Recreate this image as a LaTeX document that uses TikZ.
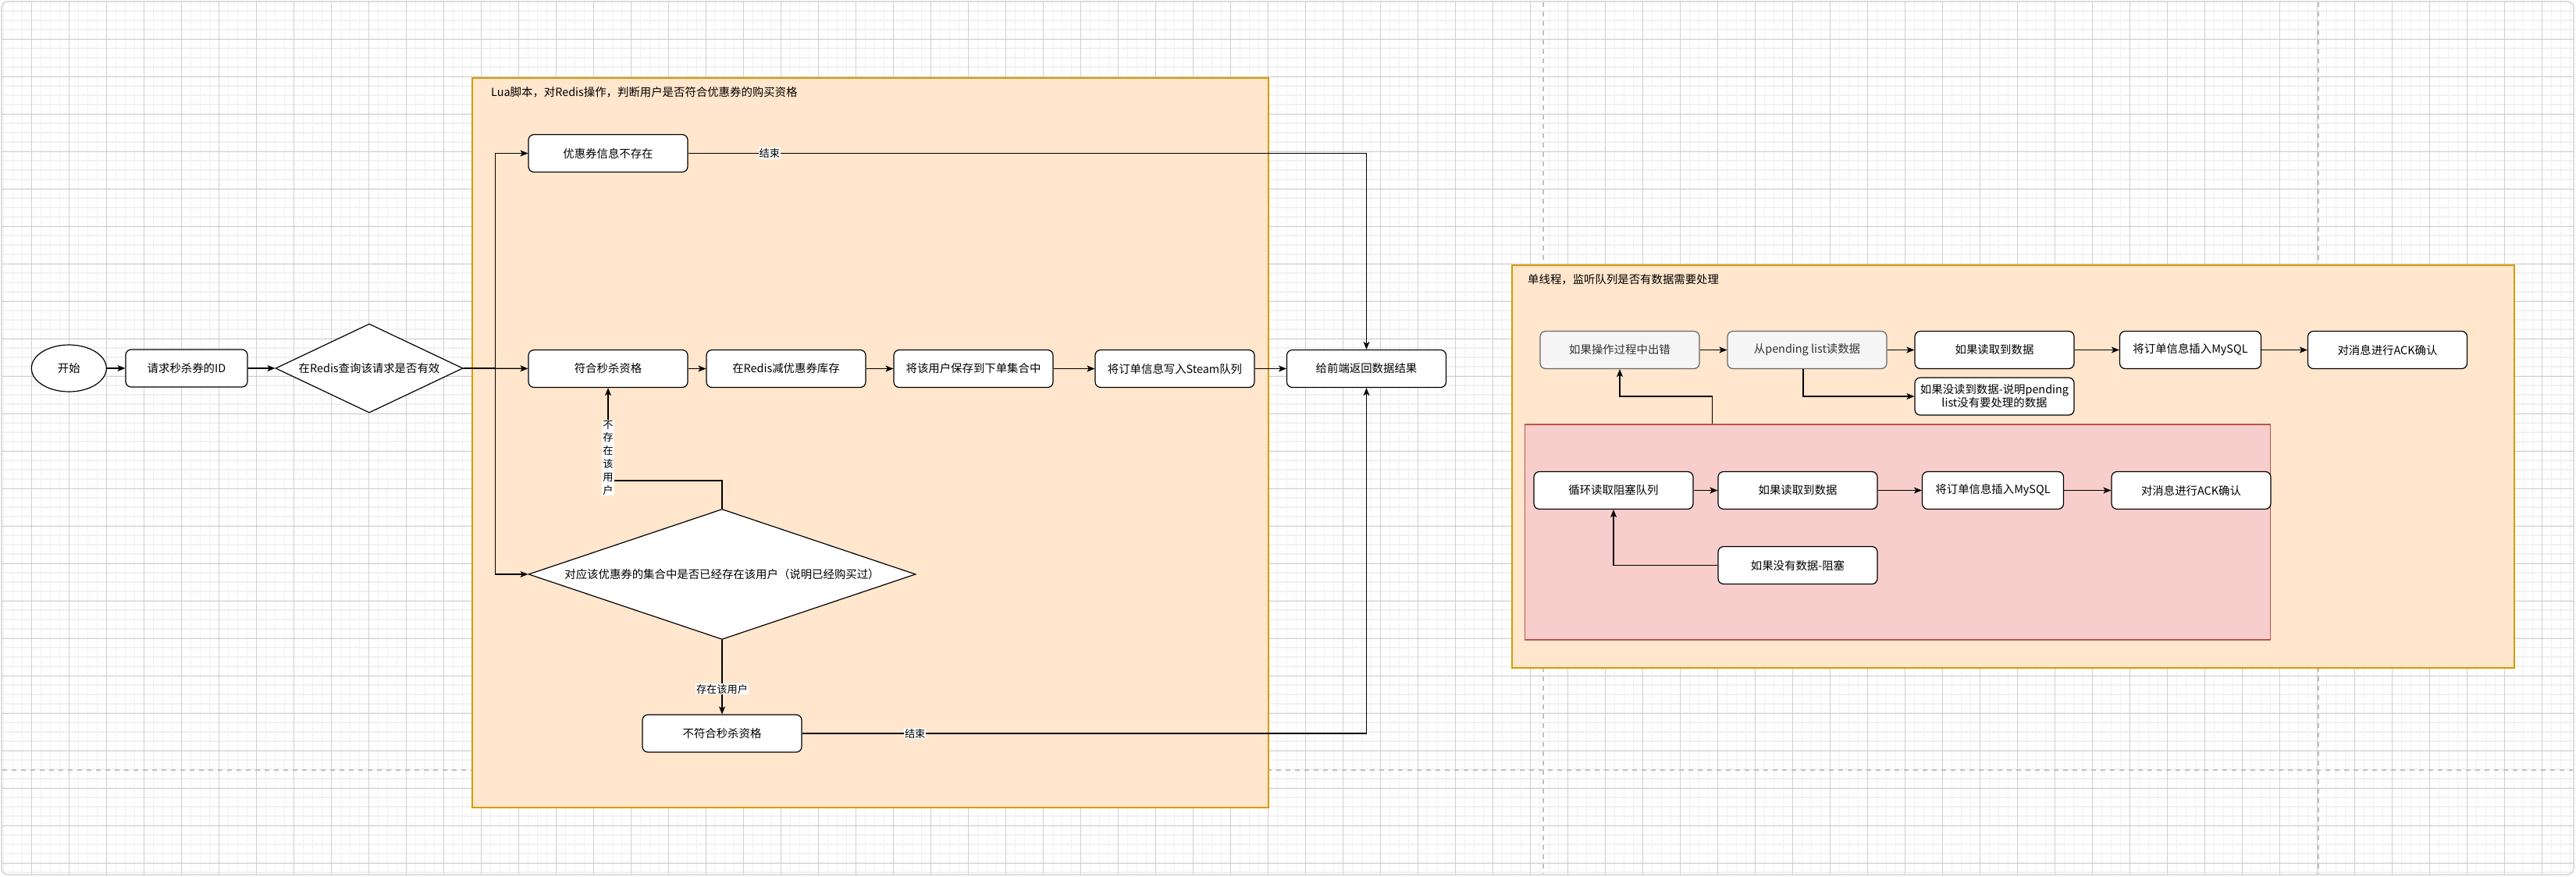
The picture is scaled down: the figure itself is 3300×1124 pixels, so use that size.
\documentclass[tikz,border=0pt]{standalone}
\usepackage{fontspec}
\setmainfont{Noto Sans CJK SC}
\usetikzlibrary{arrows.meta,shapes.geometric}
\definecolor{luafill}{HTML}{FFE6CC}
\definecolor{luadraw}{HTML}{D79B00}
\definecolor{pinkfill}{HTML}{F8CECC}
\definecolor{pinkdraw}{HTML}{B85450}
\definecolor{gfill}{HTML}{F5F5F5}
\definecolor{gdraw}{HTML}{666666}
\definecolor{gtext}{HTML}{333333}
\definecolor{minorc}{HTML}{F1F1F1}
\definecolor{majorc}{HTML}{D0D0D0}
\definecolor{brkc}{HTML}{C0C0C0}
\definecolor{framec}{HTML}{D6D6D6}
\begin{document}
\begin{tikzpicture}[x=1pt, y=-1pt, font=\fontsize{14.4}{17}\selectfont,
  box/.style={draw, line width=1.2pt, fill=white, rounded corners=7pt,
    minimum width=204pt, minimum height=48pt, inner sep=0pt, align=center},
  gbox/.style={box, draw=gdraw, fill=gfill, text=gtext},
  decide/.style={draw, diamond, line width=1.2pt, fill=white, inner sep=0pt},
  cont/.style={draw=luadraw, fill=luafill, line width=1.5pt, inner sep=0pt},
  arr/.style={line width=1.2pt, -{Stealth[length=10pt, width=8pt, inset=2.5pt]}},
  lbl/.style={fill=white, inner sep=1pt, align=center,
    font=\fontsize{13.2}{16.8}\selectfont},
  minorg/.style={draw=minorc, line width=1.3pt},
  majorg/.style={draw=majorc, line width=0.8pt},
  pagebrk/.style={draw=brkc, line width=2pt, dash pattern=on 6pt off 6pt}]
  \fill[white] (0,0) rectangle (3300,1124);
  \useasboundingbox (0,0) rectangle (3300,1124);
  % grid
  \foreach \i in {0,...,274}
    \draw[minorg] ({4.5+12*\i},2) -- ({4.5+12*\i},1121);
  \foreach \j in {1,...,93}
    \draw[minorg] (2,{2+12*\j}) -- (3297,{2+12*\j});
  \foreach \i in {0,...,67}
    \draw[majorg] ({40.5+48*\i},2) -- ({40.5+48*\i},1121);
  \foreach \j in {1,...,23}
    \draw[majorg] (2,{2+48*\j}) -- (3297,{2+48*\j});
  \draw[framec, line width=1.5pt, rounded corners=8pt] (2,2) rectangle (3297,1121);
  % page breaks
  \draw[pagebrk] (1977,3) -- (1977,1120);
  \draw[pagebrk] (2970,3) -- (2970,1120);
  \draw[pagebrk] (3,986.7) -- (3296,986.7);
  % containers
  \node[cont, minimum width=1020pt, minimum height=935pt] (lua) at (1115,567.5) {};
  \node[anchor=west, inner sep=0pt] (luatitle) at (629,118)
    {Lua脚本，对Redis操作，判断用户是否符合优惠券的购买资格};
  \node[cont, minimum width=1284pt, minimum height=516pt] (mq) at (2579,598) {};
  \node[anchor=west, inner sep=0pt] (mqtitle) at (1957,358)
    {单线程，监听队列是否有数据需要处理};
  \node[draw=pinkdraw, fill=pinkfill, line width=1.2pt, inner sep=0pt,
    minimum width=955pt, minimum height=276pt] (blockq) at (2431.3,682) {};
  % left flow
  \node[draw, ellipse, line width=1.2pt, fill=white, inner sep=0pt,
    minimum width=96pt, minimum height=60pt] (start) at (88.3,472) {开始};
  \node[box, minimum width=156pt] (reqid) at (239,472) {请求秒杀券的ID};
  \node[decide, aspect=2, minimum width=240pt, minimum height=114pt] (chk)
    at (473,472) {在Redis查询该请求是否有效};
  \node[box] (noinfo) at (779,196.5) {优惠券信息不存在};
  \node[box] (fit) at (779,472.5) {符合秒杀资格};
  \node[box] (deduct) at (1007,472.5) {在Redis减优惠券库存};
  \node[box] (save) at (1247,472.5) {将该用户保存到下单集合中};
  \node[box] (enqueue) at (1505,472.5) {将订单信息写入Steam队列};
  \node[box] (reply) at (1750.5,472.5) {给前端返回数据结果};
  \node[decide, aspect=3, minimum width=496pt, minimum height=167pt] (chkuser)
    at (925,736) {对应该优惠券的集合中是否已经存在该用户（说明已经购买过）};
  \node[box] (nofit) at (925,940) {不符合秒杀资格};
  % right flow
  \node[gbox] (err) at (2075,448.5) {如果操作过程中出错};
  \node[gbox] (pend) at (2315,448.5) {从pending list读数据};
  \node[box] (got1) at (2555,448.5) {如果读取到数据};
  \node[box, minimum width=181pt] (ins1) at (2806,448.5) {将订单信息插入MySQL};
  \node[box] (ack1) at (3058.5,448.5) {对消息进行ACK确认};
  \node[box] (nodata) at (2555,508) {如果没读到数据-说明pending\\list没有要处理的数据};
  \node[box] (loop) at (2067,628.5) {循环读取阻塞队列};
  \node[box] (got2) at (2303,628.5) {如果读取到数据};
  \node[box, minimum width=181pt] (ins2) at (2553,628.5) {将订单信息插入MySQL};
  \node[box] (ack2) at (2807,628.5) {对消息进行ACK确认};
  \node[box] (block) at (2303,724.5) {如果没有数据-阻塞};
  % connectors
  \draw[arr] (start) -- (reqid);
  \draw[arr] (reqid) -- (chk);
  \draw[arr] (chk) -- (fit);
  \draw[arr] (chk.east) -- ++(41,0) |- (noinfo);
  \draw[arr] (chk.east) -- ++(41,0) |- (chkuser);
  \foreach \a/\b in {fit/deduct, deduct/save, save/enqueue, enqueue/reply}
    \draw[arr] (\a) -- (\b);
  \draw[arr] (noinfo) -| (reply) node[lbl, pos=0.06] (end1) {结束};
  \draw[arr] (nofit) -| (reply) node[lbl, pos=0.1] (end2) {结束};
  \draw[arr] (chkuser.north) -- ++(0,-36) -| (fit)
    node[lbl, pos=0.623] (nouser) {不\\存\\在\\该\\用\\户};
  \draw[arr] (chkuser.south) -- (nofit) node[lbl, pos=0.66] (hasuser) {存在该用户};
  \foreach \a/\b in {err/pend, pend/got1, got1/ins1, ins1/ack1,
                     loop/got2, got2/ins2, ins2/ack2}
    \draw[arr] (\a) -- (\b);
  \draw[arr] ([xshift=-5pt]pend.south) |- (nodata);
  \draw[arr] ([xshift=240pt]blockq.north west) -- ++(0,-35.5) -| (err);
  \draw[arr] (block) -| (loop);
\end{tikzpicture}
\end{document}
